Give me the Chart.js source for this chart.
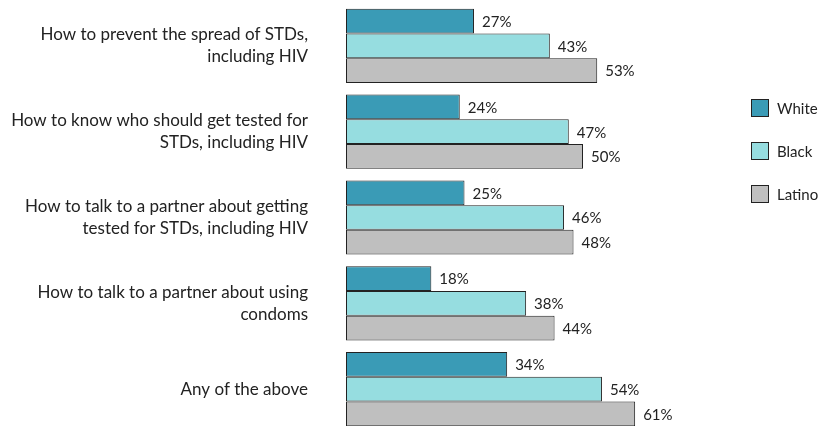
<!DOCTYPE html>
<html>
<head>
<meta charset="utf-8">
<script src="https://cdn.jsdelivr.net/npm/chart.js@4/dist/chart.umd.min.js"></script>
<style>
  html, body { margin: 0; padding: 0; background: #fff; overflow: hidden; }
  #wrap { width: 820px; height: 440px; position: relative; }
</style>
</head>
<body>
<div id="wrap"><canvas id="chart"></canvas></div>
<script>
const categories = [
    ["How to prevent the spread of STDs,", "including HIV"],
    ["How to know who should get tested for", "STDs, including HIV"],
    ["How to talk to a partner about getting", "tested for STDs, including HIV"],
    ["How to talk to a partner about using", "condoms"],
    ["Any of the above"]
];
const seriesNames = ["White", "Black", "Latino"];
const whiteValues = [27, 24, 25, 18, 34];
const blackValues = [43, 47, 46, 38, 54];
const latinoValues = [53, 50, 48, 44, 61];
const seriesColors = ["#3A9BB6", "#96DDE0", "#BFBFBF"];

const FONT = "Lato, 'Open Sans', sans-serif";

// value labels at the end of each bar
const valueLabels = {
    id: "valueLabels",
    afterDatasetsDraw(chart) {
        const ctx = chart.ctx;
        ctx.save();
        ctx.font = "15px " + FONT;
        ctx.fillStyle = "#222";
        ctx.textAlign = "left";
        ctx.textBaseline = "middle";
        chart.data.datasets.forEach((ds, i) => {
            chart.getDatasetMeta(i).data.forEach((bar, j) => {
                ctx.fillText(ds.data[j] + "%", bar.x + 8, bar.y + 1);
            });
        });
        ctx.restore();
    }
};

// legend drawn as a column on the right
const sideLegend = {
    id: "sideLegend",
    afterDraw(chart) {
        const ctx = chart.ctx;
        ctx.save();
        ctx.font = "15px " + FONT;
        ctx.textBaseline = "middle";
        chart.data.datasets.forEach((ds, i) => {
            const cy = 108 + i * 43;
            ctx.fillStyle = ds.backgroundColor;
            ctx.fillRect(751, cy - 9, 18, 18);
            ctx.strokeStyle = "#222";
            ctx.lineWidth = 1;
            ctx.strokeRect(751.5, cy - 8.5, 17, 17);
            ctx.fillStyle = "#222";
            ctx.fillText(ds.label, 777, cy + 1);
        });
        ctx.restore();
    }
};

new Chart(document.getElementById("chart"), {
    type: "bar",
    data: {
        labels: categories,
        datasets: [whiteValues, blackValues, latinoValues].map((vals, i) => ({
            label: seriesNames[i],
            data: vals,
            backgroundColor: seriesColors[i],
            borderColor: "#222",
            borderWidth: 1,
            borderSkipped: false,
            categoryPercentage: 0.865,
            barPercentage: 1.0
        }))
    },
    options: {
        indexAxis: "y",
        responsive: true,
        maintainAspectRatio: false,
        animation: false,
        layout: { padding: { top: 3, bottom: 8, left: 0, right: 0 } },
        plugins: {
            legend: { display: false },
            tooltip: { enabled: false }
        },
        scales: {
            x: {
                min: 0,
                max: 100,
                display: false
            },
            y: {
                grid: { display: false, drawTicks: false },
                border: { display: false },
                afterFit(scale) {
                    scale.width = 346;
                    scale.paddingTop = 0;
                    scale.paddingBottom = 0;
                },
                ticks: {
                    padding: 38,
                    color: "#222",
                    font: { family: FONT, size: 17, lineHeight: 1.3 }
                }
            }
        }
    },
    plugins: [valueLabels, sideLegend]
});
</script>
</body>
</html>
